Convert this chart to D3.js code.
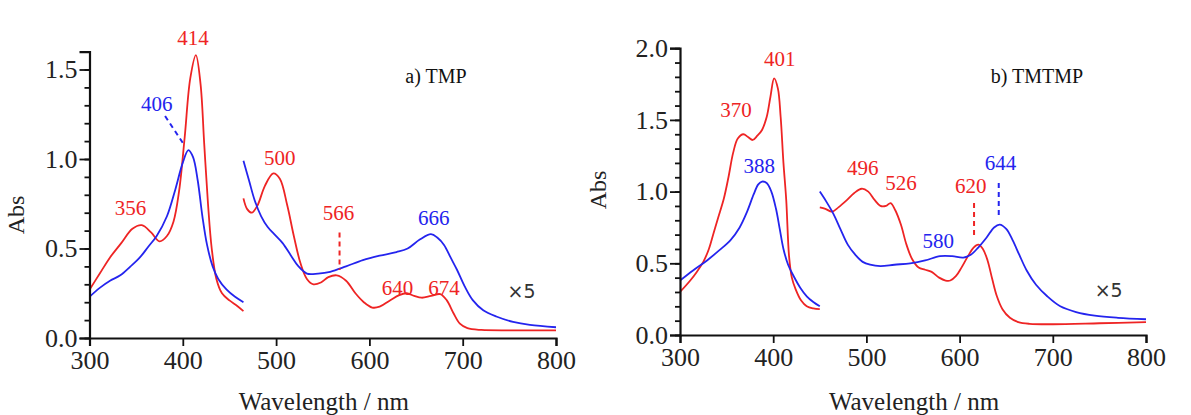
<!DOCTYPE html>
<html>
<head>
<meta charset="utf-8">
<script src="https://cdn.jsdelivr.net/npm/d3@7"></script>
<style>
body { margin: 0; background: #fff; }
svg text { font-family: "Liberation Serif", "Times New Roman", serif; }
</style>
</head>
<body>
<svg id="svg" width="1191" height="415"></svg>
<script>
var RED = "#ee2424", BLUE = "#2424ee";

// ---- data: [wavelength nm, Abs] ----
// a) TMP, Soret region
var tmpRedSoret = [[300,0.27],[311,0.36],[322,0.45],[334,0.53],[346,0.61],[356,0.63],[366,0.59],[375,0.54],[383,0.57],[390,0.65],[396,0.82],[402,1.12],[408,1.45],[414,1.58],[419,1.42],[423,1.08],[427,0.75],[431,0.50],[436,0.33],[442,0.25],[450,0.21],[458,0.18],[465,0.15]];
var tmpBlueSoret = [[300,0.23],[311,0.28],[322,0.32],[333,0.35],[344,0.40],[354,0.45],[363,0.51],[372,0.57],[383,0.68],[392,0.83],[400,0.98],[406,1.05],[411,1.01],[416,0.88],[421,0.68],[426,0.52],[432,0.40],[438,0.33],[447,0.27],[456,0.23],[465,0.20]];
// a) TMP, Q-band region (x5)
var tmpRedQ = [[465,0.78],[469,0.72],[474,0.70],[480,0.74],[488,0.85],[497,0.92],[504,0.89],[512,0.74],[519,0.57],[526,0.42],[533,0.33],[540,0.30],[548,0.31],[556,0.34],[565,0.35],[575,0.32],[585,0.25],[594,0.20],[603,0.17],[611,0.175],[622,0.21],[632,0.24],[640,0.25],[648,0.235],[656,0.225],[666,0.235],[676,0.245],[683,0.21],[690,0.14],[697,0.08],[705,0.055],[720,0.045],[760,0.043],[800,0.043]];
var tmpBlueQ = [[465,0.99],[471,0.88],[477,0.77],[484,0.68],[491,0.62],[498,0.58],[507,0.53],[516,0.46],[524,0.40],[533,0.36],[545,0.36],[558,0.37],[575,0.40],[593,0.435],[611,0.46],[629,0.48],[641,0.50],[654,0.55],[666,0.58],[673,0.56],[680,0.52],[687,0.45],[694,0.38],[702,0.29],[711,0.21],[722,0.155],[736,0.12],[754,0.09],[772,0.073],[800,0.06]];

// b) TMTMP, Soret region
var tmtmpRedSoret = [[300,0.30],[311,0.38],[318,0.44],[325,0.51],[331,0.60],[336,0.71],[341,0.82],[347,0.95],[352,1.10],[357,1.27],[362,1.37],[368,1.40],[373,1.38],[378,1.36],[383,1.39],[388,1.43],[393,1.52],[397,1.66],[401,1.79],[405,1.72],[408,1.52],[411,1.20],[414,0.94],[417,0.55],[420,0.40],[424,0.32],[430,0.24],[436,0.20],[443,0.185],[450,0.18]];
var tmtmpBlueSoret = [[300,0.38],[314,0.45],[329,0.52],[342,0.59],[354,0.66],[364,0.75],[372,0.86],[379,0.98],[384,1.05],[388,1.07],[393,1.06],[398,1.00],[403,0.88],[407,0.74],[411,0.60],[416,0.49],[422,0.41],[429,0.33],[436,0.27],[443,0.23],[450,0.20]];
// b) TMTMP, Q-band region (x5)
var tmtmpRedQ = [[450,0.89],[456,0.88],[463,0.86],[470,0.89],[479,0.94],[487,0.99],[495,1.02],[502,1.00],[509,0.94],[515,0.90],[521,0.90],[526,0.92],[531,0.87],[537,0.77],[543,0.63],[549,0.53],[556,0.47],[563,0.455],[570,0.44],[578,0.40],[585,0.38],[590,0.38],[596,0.41],[602,0.47],[609,0.55],[615,0.61],[620,0.63],[625,0.60],[630,0.52],[635,0.39],[640,0.27],[646,0.18],[654,0.12],[663,0.09],[675,0.078],[700,0.075],[750,0.082],[800,0.09]];
var tmtmpBlueQ = [[450,1.00],[457,0.93],[465,0.84],[472,0.74],[480,0.63],[488,0.56],[496,0.51],[504,0.49],[515,0.48],[530,0.49],[547,0.50],[563,0.52],[579,0.55],[592,0.55],[604,0.54],[612,0.56],[620,0.61],[629,0.68],[637,0.75],[643,0.77],[650,0.74],[657,0.66],[664,0.56],[672,0.45],[682,0.35],[694,0.27],[708,0.20],[725,0.16],[745,0.135],[770,0.12],[800,0.11]];

var xTicks = [300, 400, 500, 600, 700, 800];
var yTicksA = [0, 0.5, 1.0, 1.5];
var yTicksB = [0, 0.5, 1.0, 1.5, 2.0];

// peak labels: [text, wavelength, Abs, colour]
var labelsA = [["414",411,1.68,RED],["406",372,1.31,BLUE],["356",344,0.73,RED],["500",504,1.01,RED],
               ["566",567,0.70,RED],["666",669,0.67,BLUE],["640",630,0.28,RED],["674",680,0.28,RED]];
var dashesA = [[381,1.24,400,1.09,BLUE],[568,0.59,568,0.38,RED]];
var labelsB = [["401",407,1.93,RED],["370",360,1.57,RED],["388",385,1.18,BLUE],["496",496,1.17,RED],
               ["526",537,1.06,RED],["620",612,1.04,RED],["644",644,1.20,BLUE],["580",577,0.66,BLUE]];
var dashesB = [[615.5,0.92,615.5,0.68,RED],[642,1.06,642,0.83,BLUE]];

var svg = d3.select("#svg");

function drawPanel(opt) {
	var x = d3.scaleLinear().domain([300, 800]).range([opt.x0, opt.x1]);
	var y = d3.scaleLinear().domain([0, opt.ymax]).range([opt.y0, opt.y1]);
	var g = svg.append("g");

	var line = d3.line()
		.x(function(d) { return x(d[0]); })
		.y(function(d) { return y(d[1]); })
		.curve(d3.curveCatmullRom.alpha(0.5));

	opt.series.forEach(function(s) {
		g.append("path").attr("d", line(s[0]))
			.attr("fill", "none").attr("stroke", s[1])
			.attr("stroke-width", 1.8).attr("stroke-linejoin", "round");
	});

	// axes
	var xAxis = d3.axisBottom(x).tickValues(xTicks).tickSize(8).tickPadding(5)
		.tickFormat(d3.format("d"));
	var gx = g.append("g").attr("transform", "translate(0," + opt.y0 + ")").call(xAxis);
	var minor = d3.range(0, opt.ymax + 0.001, 0.1);
	var gyMinor = g.append("g").attr("transform", "translate(" + opt.x0 + ",0)")
		.call(d3.axisLeft(y).tickValues(minor).tickSize(5).tickFormat(""));
	gyMinor.select(".domain").remove();
	var gy = g.append("g").attr("transform", "translate(" + opt.x0 + ",0)")
		.call(d3.axisLeft(y).tickValues(opt.yTicks).tickSize(10).tickPadding(2)
			.tickFormat(d3.format(".1f")));
	[gx, gy, gyMinor].forEach(function(a) {
		a.selectAll("line").attr("stroke", "#111").attr("stroke-width", 1.8);
		a.select(".domain").attr("stroke", "#111").attr("stroke-width", 2.2);
		a.selectAll("text").attr("fill", "#222").style("font-size", "26px")
			.style("font-family", "'Liberation Serif', serif");
	});

	// labels
	g.selectAll("text.pk").data(opt.labels).enter().append("text")
		.attr("class", "pk")
		.attr("x", function(d) { return x(d[1]); })
		.attr("y", function(d) { return y(d[2]); })
		.attr("dy", "0.35em")
		.attr("text-anchor", "middle")
		.attr("fill", function(d) { return d[3]; })
		.style("font-size", "21px")
		.text(function(d) { return d[0]; });

	g.selectAll("line.dash").data(opt.dashes).enter().append("line")
		.attr("x1", function(d) { return x(d[0]); })
		.attr("y1", function(d) { return y(d[1]); })
		.attr("x2", function(d) { return x(d[2]); })
		.attr("y2", function(d) { return y(d[3]); })
		.attr("stroke", function(d) { return d[4]; })
		.attr("stroke-width", 2).attr("stroke-dasharray", "5,4");

	g.append("text").attr("x", x(opt.timesX)).attr("y", y(opt.timesY)).attr("dy", "0.35em")
		.attr("text-anchor", "middle").attr("fill", "#333")
		.style("font-family", "'DejaVu Sans', sans-serif").style("font-size", "19px")
		.text("\u00d75");

	g.append("text").attr("x", opt.titleX).attr("y", 83).attr("text-anchor", "middle")
		.attr("fill", "#111").style("font-size", "20px").text(opt.title);

	g.append("text").attr("x", (opt.x0 + opt.x1) / 2 + 1).attr("y", 410)
		.attr("text-anchor", "middle").attr("fill", "#222").style("font-size", "25px")
		.text("Wavelength / nm");

	g.append("text").attr("transform", "translate(" + opt.absX + "," + opt.absY + ") rotate(-90)")
		.attr("text-anchor", "middle").attr("fill", "#222").style("font-size", "24px")
		.text("Abs");
}

drawPanel({
	x0: 89.5, x1: 556, y0: 338, y1: 338 - 1.6 * 179, ymax: 1.6, yTicks: yTicksA,
	series: [[tmpRedSoret, RED], [tmpBlueSoret, BLUE], [tmpRedQ, RED], [tmpBlueQ, BLUE]],
	labels: labelsA, dashes: dashesA, timesX: 763, timesY: 0.26,
	title: "a) TMP", titleX: 436, absX: 24, absY: 215
});

drawPanel({
	x0: 680, x1: 1146, y0: 335, y1: 335 - 2.0 * 143.4, ymax: 2.0, yTicks: yTicksB,
	series: [[tmtmpRedSoret, RED], [tmtmpBlueSoret, BLUE], [tmtmpRedQ, RED], [tmtmpBlueQ, BLUE]],
	labels: labelsB, dashes: dashesB, timesX: 760, timesY: 0.31,
	title: "b) TMTMP", titleX: 1037, absX: 606, absY: 190
});
</script>
</body>
</html>
